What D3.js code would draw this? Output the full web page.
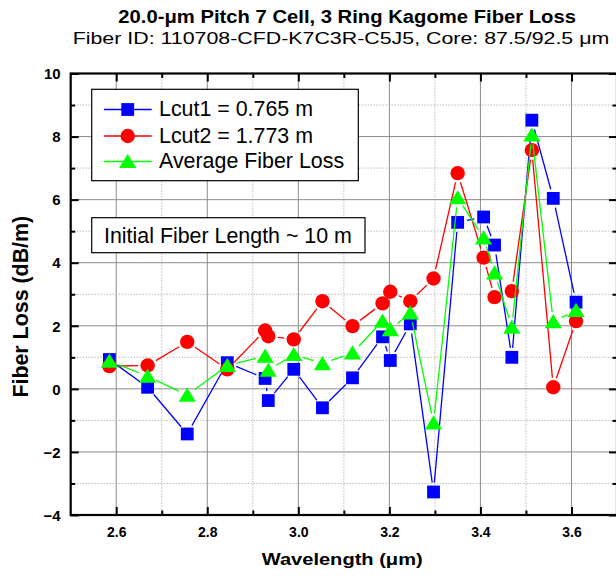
<!DOCTYPE html>
<html><head><meta charset="utf-8">
<script src="https://cdn.jsdelivr.net/npm/d3@7"></script>
<style>body{margin:0;background:#fff} svg{display:block;font-family:"Liberation Sans",Arial,sans-serif}</style>
</head><body><svg id="c" width="616" height="580"></svg>
<script>
// ---- data ----
const wavelength = [2.585, 2.669, 2.756, 2.844, 2.927, 2.934, 2.990, 3.053, 3.119, 3.185,
                    3.202, 3.246, 3.297, 3.350, 3.407, 3.431, 3.469, 3.513, 3.560, 3.610];
const lcut1   = [0.93, 0.05, -1.43, 0.83, 0.33, -0.37, 0.62, -0.60, 0.35, 1.65,
                 0.90, 2.06, -3.27, 5.28, 5.45, 4.56, 1.00, 8.52, 6.04, 2.75];
const lcut2   = [0.72, 0.74, 1.49, 0.62, 1.85, 1.67, 1.57, 2.78, 1.99, 2.71,
                 3.08, 2.78, 3.50, 6.84, 4.16, 2.91, 3.10, 7.57, 0.05, 2.15];
const avgLoss = [0.88, 0.40, -0.20, 0.74, 1.04, 0.59, 1.09, 0.80, 1.14, 2.15,
                 1.88, 2.41, -1.08, 6.06, 4.79, 3.68, 1.96, 8.05, 2.13, 2.49];
const seriesNames = ["Lcut1 = 0.765 m", "Lcut2 = 1.773 m", "Average Fiber Loss"];
const xMajorTicks = [2.6, 2.8, 3.0, 3.2, 3.4, 3.6];
const xMinorTicks = [2.7, 2.9, 3.1, 3.3, 3.5];
const yMajorTicks = [-4, -2, 0, 2, 4, 6, 8, 10];
const yMinorTicks = [-3, -1, 1, 3, 5, 7, 9];
const titleText = "20.0-\u03bcm Pitch 7 Cell, 3 Ring Kagome Fiber Loss";
const subtitleText = "Fiber ID: 110708-CFD-K7C3R-C5J5, Core: 87.5/92.5 \u03bcm";
const xTitle = "Wavelength (\u03bcm)";
const yTitle = "Fiber Loss (dB/m)";
const noteText = "Initial Fiber Length ~ 10 m";

// ---- layout ----
const svg = d3.select("#c");
const L = 70.7, R = 617, T = 73.5, B = 515;
const x = d3.scaleLinear().domain([2.5, 3.7]).range([L, R]);
const y = d3.scaleLinear().domain([-4, 10]).range([B, T]);

// gridlines
const grid = svg.append("g");
grid.selectAll(".vmaj").data(xMajorTicks).enter().append("line")
  .attr("x1", d => x(d)).attr("x2", d => x(d)).attr("y1", T).attr("y2", B)
  .attr("stroke", "#8c8c8c").attr("stroke-width", 1);
grid.selectAll(".vmin").data(xMinorTicks).enter().append("line")
  .attr("x1", d => x(d)).attr("x2", d => x(d)).attr("y1", T).attr("y2", B)
  .attr("stroke", "#9a9a9a").attr("stroke-width", 1).attr("stroke-dasharray", "1,2");
grid.selectAll(".hmaj").data(yMajorTicks).enter().append("line")
  .attr("y1", d => y(d)).attr("y2", d => y(d)).attr("x1", L).attr("x2", R)
  .attr("stroke", "#8c8c8c").attr("stroke-width", 1);
grid.selectAll(".hmin").data(yMinorTicks).enter().append("line")
  .attr("y1", d => y(d)).attr("y2", d => y(d)).attr("x1", L).attr("x2", R)
  .attr("stroke", "#9a9a9a").attr("stroke-width", 1).attr("stroke-dasharray", "1,2");

// axes (ticks inward)
function styleAxis(g) {
  g.select(".domain").remove();
  g.selectAll(".tick line").attr("stroke", "#000").attr("stroke-width", 2);
}
const fmt = d3.format(".1f");
const gxB = svg.append("g").attr("transform", `translate(0,${B})`)
  .call(d3.axisBottom(x).tickValues(xMajorTicks).tickSizeInner(-8).tickSizeOuter(0).tickFormat(fmt));
styleAxis(gxB);
gxB.selectAll(".tick text").attr("y", 22).attr("dy", 0)
  .attr("font-size", 14).attr("font-weight", "bold").attr("font-family", "Liberation Sans, Arial, sans-serif").attr("fill", "#000");
svg.append("g").attr("transform", `translate(0,${B})`)
  .call(d3.axisBottom(x).tickValues(xMinorTicks).tickSizeInner(-4.5).tickSizeOuter(0).tickFormat(""))
  .call(styleAxis);
svg.append("g").attr("transform", `translate(0,${T})`)
  .call(d3.axisTop(x).tickValues(xMajorTicks).tickSizeInner(-8).tickSizeOuter(0).tickFormat(""))
  .call(styleAxis);
svg.append("g").attr("transform", `translate(0,${T})`)
  .call(d3.axisTop(x).tickValues(xMinorTicks).tickSizeInner(-4.5).tickSizeOuter(0).tickFormat(""))
  .call(styleAxis);
const gyL = svg.append("g").attr("transform", `translate(${L},0)`)
  .call(d3.axisLeft(y).tickValues(yMajorTicks).tickSizeInner(-8).tickSizeOuter(0).tickFormat(d3.format("d")));
styleAxis(gyL);
gyL.selectAll(".tick text").attr("x", -10).attr("dy", "0.35em")
  .attr("font-size", 15).attr("font-weight", "bold").attr("font-family", "Liberation Sans, Arial, sans-serif").attr("fill", "#000");
svg.append("g").attr("transform", `translate(${L},0)`)
  .call(d3.axisLeft(y).tickValues(yMinorTicks).tickSizeInner(-4.5).tickSizeOuter(0).tickFormat(""))
  .call(styleAxis);
svg.append("g").attr("transform", `translate(${R},0)`)
  .call(d3.axisRight(y).tickValues(yMajorTicks).tickSizeInner(-8).tickSizeOuter(0).tickFormat(""))
  .call(styleAxis);
svg.append("g").attr("transform", `translate(${R},0)`)
  .call(d3.axisRight(y).tickValues(yMinorTicks).tickSizeInner(-4.5).tickSizeOuter(0).tickFormat(""))
  .call(styleAxis);

// frame
svg.append("rect").attr("x", L).attr("y", T).attr("width", R - L).attr("height", B - T)
  .attr("fill", "none").attr("stroke", "#000").attr("stroke-width", 2.2);

// markers
function drawMarker(g, kind, cx, cy, color) {
  if (kind === "square") {
    g.append("rect").attr("x", cx - 6.4).attr("y", cy - 6.4).attr("width", 12.8).attr("height", 12.8).attr("fill", color);
  } else if (kind === "circle") {
    g.append("circle").attr("cx", cx).attr("cy", cy).attr("r", 7.2).attr("fill", color);
  } else {
    g.append("path").attr("d", `M${cx},${cy - 7.6}L${cx + 8.6},${cy + 6.6}L${cx - 8.6},${cy + 6.6}Z`).attr("fill", color);
  }
}

const series = [
  { vals: lcut1, color: "#0000ff", kind: "square" },
  { vals: lcut2, color: "#ff0000", kind: "circle" },
  { vals: avgLoss, color: "#00ff00", kind: "triangle" }
];
const gap = 9.5;
series.forEach(s => {
  const g = svg.append("g");
  const pts = wavelength.map((w, i) => [x(w), y(s.vals[i])]);
  for (let i = 0; i < pts.length - 1; i++) {
    const [x0, y0] = pts[i], [x1, y1] = pts[i + 1];
    const dx = x1 - x0, dy = y1 - y0, len = Math.hypot(dx, dy);
    if (len <= 2 * gap) continue;
    const ux = dx / len, uy = dy / len;
    g.append("line").attr("x1", x0 + ux * gap).attr("y1", y0 + uy * gap)
      .attr("x2", x1 - ux * gap).attr("y2", y1 - uy * gap)
      .attr("stroke", s.color).attr("stroke-width", 1.3);
  }
  pts.forEach(p => drawMarker(g, s.kind, p[0], p[1], s.color));
});

// legend
const lg = svg.append("g");
lg.append("rect").attr("x", 91.7).attr("y", 89.3).attr("width", 266.6).attr("height", 91.4)
  .attr("fill", "#fff").attr("stroke", "#000").attr("stroke-width", 1.2);
const legY = [109.5, 136, 161.5];
series.forEach((s, i) => {
  lg.append("line").attr("x1", 104).attr("x2", 151.7).attr("y1", legY[i]).attr("y2", legY[i])
    .attr("stroke", s.color).attr("stroke-width", 1.3);
  drawMarker(lg, s.kind, 127.7, legY[i], s.color);
  lg.append("text").attr("x", 159).attr("y", legY[i] + 6.8).attr("font-size", 21.4).attr("fill", "#000")
    .text(seriesNames[i]);
});

// annotation box
svg.append("rect").attr("x", 91.7).attr("y", 217.7).attr("width", 273.3).attr("height", 35)
  .attr("fill", "#fff").attr("stroke", "#000").attr("stroke-width", 1.2);
svg.append("text").attr("x", 104).attr("y", 242.7).attr("font-size", 21.4).attr("fill", "#000").text(noteText);

// titles
svg.append("text").attr("x", 118.3).attr("y", 22.7).attr("font-size", 18).attr("font-weight", "bold")
  .attr("textLength", 457.7).attr("lengthAdjust", "spacingAndGlyphs").text(titleText);
svg.append("text").attr("x", 72.7).attr("y", 44.3).attr("font-size", 17)
  .attr("textLength", 536.6).attr("lengthAdjust", "spacingAndGlyphs").text(subtitleText);
svg.append("text").attr("x", 261.7).attr("y", 564.5).attr("font-size", 17).attr("font-weight", "bold")
  .attr("textLength", 161).attr("lengthAdjust", "spacingAndGlyphs").text(xTitle);
svg.append("text").attr("transform", "translate(28.3,306.7) rotate(-90)").attr("text-anchor", "middle")
  .attr("font-size", 21.4).attr("font-weight", "bold").text(yTitle);
</script></body></html>
